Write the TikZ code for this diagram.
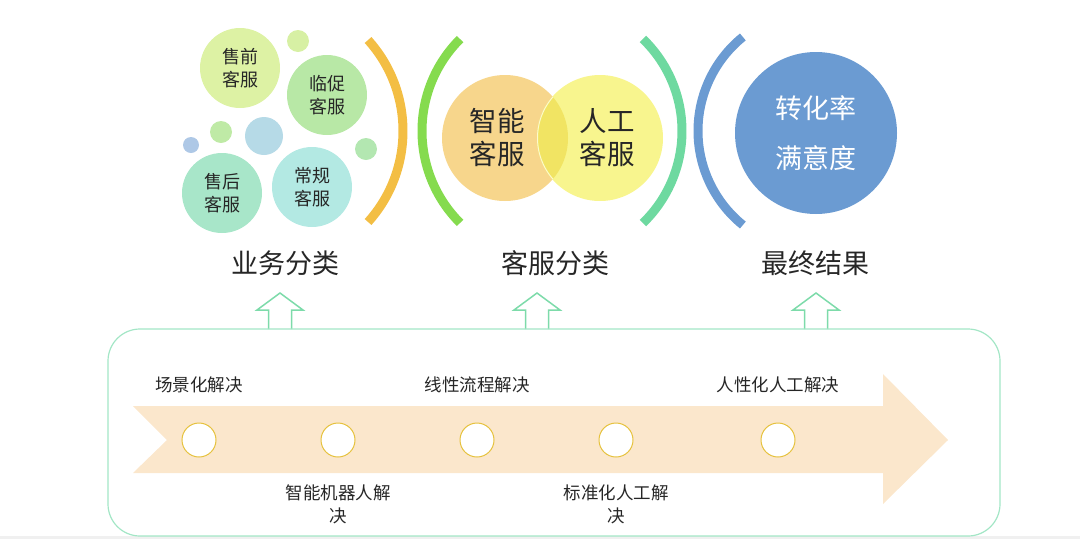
\documentclass[tikz,border=0pt]{standalone}
\usepackage{fontspec}
\setmainfont{Noto Sans CJK SC}
\usepackage{tikz}
\usetikzlibrary{positioning}

\definecolor{inkc}{HTML}{262626}
\definecolor{preC}{HTML}{DDF2A4}
\definecolor{proC}{HTML}{B8E8A6}
\definecolor{postC}{HTML}{A8E6C9}
\definecolor{normC}{HTML}{B3E9E3}
\definecolor{arcO}{HTML}{F3BE44}
\definecolor{arcG}{HTML}{85DB4E}
\definecolor{arcT}{HTML}{6ED9A0}
\definecolor{arcB}{HTML}{6B9BD2}
\definecolor{vennO}{HTML}{F7D68C}
\definecolor{vennY}{HTML}{F8F58E}
\definecolor{vennM}{HTML}{F1E463}
\definecolor{flowC}{HTML}{FBE7CC}
\definecolor{boxC}{HTML}{A3E6C6}
\definecolor{upC}{HTML}{7DDBAA}
\definecolor{dotC}{HTML}{E6C23E}

\begin{document}
\begin{tikzpicture}[x=1pt,y=-1pt,
   bubble/.style={circle,minimum size=80pt,inner sep=0pt,align=center,
                  text=inkc,font=\fontsize{18}{23}\selectfont},
   dot/.style={circle,inner sep=0pt,minimum size=#1},
   title/.style={text=inkc,font=\fontsize{27}{30}\selectfont},
   steplabel/.style={text=inkc,align=center,font=\fontsize{17.5}{23}\selectfont},
   ring/.style={line width=9pt},
   stopdot/.style={circle,draw=dotC,line width=1pt,fill=white,minimum size=34pt,inner sep=0pt}]
  \useasboundingbox (0,0) rectangle (1080,539);
  \fill[black!6] (0,536) rectangle (1080,539);

  % business types
  \node[dot=22pt,fill=preC!85!proC] (s1) at (298,41) {};
  \node[dot=38pt,fill=normC!60!arcB!70] (s2) at (264,136) {};
  \node[dot=22pt,fill=proC!80!preC] (s3) at (221,132) {};
  \node[dot=16pt,fill=arcB!55] (s4) at (191,145) {};
  \node[dot=22pt,fill=proC!70!postC] (s5) at (366,149) {};
  \node[bubble,fill=preC] (pre) at (240,68) {售前\\客服};
  \node[bubble,fill=proC] (pro) at (327,95) {临促\\客服};
  \node[bubble,fill=postC] (post) at (222,193) {售后\\客服};
  \node[bubble,fill=normC] (norm) at (312,187) {常规\\客服};
  \draw[ring,arcO] (267,131) ++(-42:136pt) arc[start angle=-42,end angle=42,radius=136pt];

  % service types
  \draw[ring,arcG] (552,131) ++(135:130pt) arc[start angle=135,end angle=225,radius=130pt];
  \draw[ring,arcT] (554,131) ++(-46:128pt) arc[start angle=-46,end angle=46,radius=128pt];
  \node[circle,minimum size=126pt,fill=vennO] (ai) at (505,138) {};
  \node[circle,minimum size=126pt,fill=vennY] (hu) at (600,138) {};
  \begin{scope}
    \clip (ai.center) circle[radius=63pt];
    \fill[vennM] (hu.center) circle[radius=63pt];
    \draw[white!55!vennY,line width=1pt] (hu.center) circle[radius=62.5pt];
  \end{scope}
  \node[text=inkc,align=center,font=\fontsize{27.5}{33}\selectfont] (aitx) at (497,138) {智能\\客服};
  \node[text=inkc,align=center,font=\fontsize{27.5}{33}\selectfont] (hutx) at (607,138) {人工\\客服};

  % result
  \draw[ring,arcB] (819,131) ++(129:121pt) arc[start angle=129,end angle=231,radius=121pt];
  \node[circle,minimum size=162pt,fill=arcB,inner sep=0pt,align=center,text=white,
        font=\fontsize{27}{50}\selectfont] (res) at (816,133) {转化率\\满意度};

  \node[title] (t1) at (285,263) {业务分类};
  \node[title] (t2) at (555,263) {客服分类};
  \node[title] (t3) at (815,263) {最终结果};

  % hollow arrows and frame
  \foreach \x in {280,537,816}
    \draw[upC,line width=1.5pt,fill=white,line join=miter]
      (\x-11.5,329) -- (\x-11.5,310) -- (\x-23,310) -- (\x,293)
      -- (\x+23,310) -- (\x+11.5,310) -- (\x+11.5,329);
  \draw[boxC,line width=1.2pt,rounded corners=32pt] (108,329) rectangle (1000,536);

  % road
  \fill[flowC] (133,406) -- (883,406) -- (883,374) -- (948,440) -- (883,504)
    -- (883,473) -- (133,473) -- (167,440) -- cycle;
  \foreach \x/\n in {199/1,338/2,477/3,616/4,778/5}
    \node[stopdot] (p\n) at (\x,440) {};

  \node[steplabel] (l1) at (199,385) {场景化解决};
  \node[steplabel] (l2) at (338,504) {智能机器人解\\决};
  \node[steplabel] (l3) at (477,385) {线性流程解决};
  \node[steplabel] (l4) at (616,504) {标准化人工解\\决};
  \node[steplabel] (l5) at (778,385) {人性化人工解决};
\end{tikzpicture}
\end{document}
